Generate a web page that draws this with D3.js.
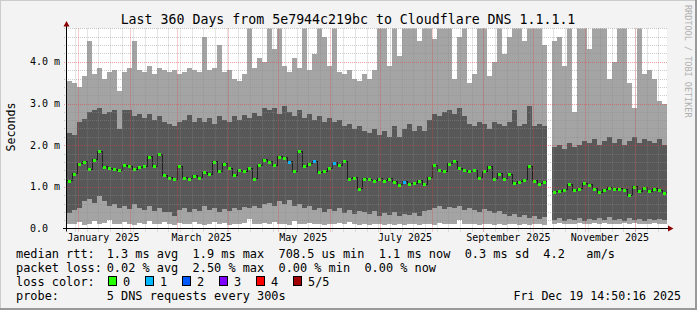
<!DOCTYPE html>
<html>
<head>
<meta charset="utf-8">
<script src="https://cdn.jsdelivr.net/npm/d3@7"></script>
<style>
html, body { margin: 0; padding: 0; background: #f3f3f3; }
svg { display: block; font-family: "DejaVu Sans Mono", monospace; }
text { white-space: pre; }
</style>
</head>
<body>
<svg id="chart" width="697" height="310"></svg>
<script>
// 360 days, one column every 3 days
var startTime = Date.UTC(2024, 11, 25, 5);
var endTime = Date.UTC(2025, 11, 20, 5);
var stepDays = 3;

// median rtt in ms (null = no data)
var medianRtt = [1.15,1.32,1.55,1.6,1.42,1.65,1.85,1.48,1.45,1.42,
  1.4,1.52,1.5,1.42,1.47,1.5,1.72,1.5,1.78,1.28,
  1.22,1.18,1.5,1.22,1.2,1.27,1.22,1.35,1.3,1.6,
  1.38,1.55,1.45,1.28,1.4,1.38,1.45,1.2,1.52,1.65,
  1.6,1.52,1.72,1.7,1.6,1.38,1.85,1.5,1.55,1.62,
  1.35,1.38,1.45,1.58,1.52,1.62,1.2,1.22,0.95,1.2,
  1.18,1.15,1.2,1.15,1.2,1.12,1.05,1.12,1.07,1.08,
  1.15,1.06,1.22,1.52,1.4,1.38,1.55,1.62,1.45,1.4,
  1.37,1.4,1.22,1.37,1.48,1.2,1.32,1.2,1.3,1.08,
  1.12,1.17,1.5,1.15,1.07,1.12,null,0.88,0.9,0.93,
  1.06,0.92,0.95,1.08,1.05,0.95,0.87,0.93,0.98,0.94,
  0.95,0.93,0.8,1.0,0.9,0.98,0.9,0.95,0.92,0.86];

// lost pings per step (out of 5)
var lossCount = [0,0,0,0,0,0,0,0,0,0, 0,0,0,0,0,0,0,0,0,0,
  0,0,0,0,0,0,0,0,0,0, 0,0,0,0,0,0,0,0,0,0,
  0,0,0,0,1,0,0,0,0,1, 0,0,0,1,0,0,0,0,0,0,
  0,0,0,0,0,0,0,1,0,0, 0,0,0,0,0,0,0,0,0,0,
  0,0,0,0,0,0,0,0,0,0, 0,0,0,0,0,0,0,0,0,0,
  0,0,0,0,0,0,0,0,0,0, 0,0,0,0,0,0,0,0,0,0];

// smoke: sorted pings (fastest .. slowest), ms
var pingMin = [0.12,0.1,0.15,0.08,0.12,0.18,0.1,0.14,0.2,0.12,
  0.1,0.16,0.12,0.08,0.14,0.1,0.18,0.12,0.1,0.15,
  0.12,0.08,0.14,0.1,0.12,0.16,0.1,0.08,0.12,0.15,
  0.1,0.13,0.09,0.12,0.1,0.14,0.22,0.12,0.1,0.14,
  0.12,0.16,0.1,0.12,0.09,0.18,0.12,0.1,0.14,0.1,
  0.12,0.08,0.12,0.1,0.13,0.1,0.15,0.12,0.09,0.1,
  0.08,0.1,0.12,0.08,0.1,0.09,0.12,0.08,0.1,0.11,
  0.08,0.1,0.12,0.09,0.14,0.1,0.12,0.1,0.2,0.12,
  0.1,0.12,0.08,0.1,0.12,0.09,0.1,0.08,0.12,0.1,
  0.08,0.1,0.09,0.12,0.1,0.08,null,0.12,0.14,0.1,
  0.12,0.1,0.14,0.12,0.1,0.13,0.11,0.14,0.1,0.12,
  0.1,0.13,0.11,0.14,0.1,0.12,0.1,0.13,0.11,0.12];

var pingLow = [0.37,0.45,0.5,0.65,0.72,0.62,0.78,0.65,0.55,0.6,
  0.5,0.55,0.48,0.6,0.5,0.45,0.55,0.42,0.5,0.4,
  0.4,0.3,0.45,0.5,0.4,0.48,0.42,0.55,0.45,0.5,
  0.4,0.48,0.42,0.5,0.45,0.52,0.5,0.55,0.5,0.58,
  0.62,0.55,0.65,0.6,0.68,0.55,0.6,0.5,0.55,0.45,
  0.5,0.4,0.48,0.42,0.5,0.38,0.45,0.35,0.42,0.4,
  0.35,0.42,0.3,0.38,0.32,0.4,0.3,0.35,0.32,0.38,
  0.3,0.42,0.45,0.5,0.55,0.48,0.52,0.5,0.55,0.45,
  0.5,0.45,0.4,0.48,0.42,0.38,0.42,0.35,0.3,0.35,
  0.28,0.32,0.25,0.3,0.22,0.28,null,0.2,0.25,0.18,
  0.22,0.2,0.25,0.18,0.22,0.2,0.25,0.2,0.28,0.2,
  0.22,0.18,0.25,0.2,0.22,0.18,0.24,0.2,0.22,0.2];

var pingHigh = [2.3,2.25,2.55,2.62,2.8,2.85,2.9,2.75,2.8,2.85,
  2.4,2.85,2.85,2.7,2.75,2.65,2.75,2.6,2.7,2.55,
  2.5,2.45,2.55,2.6,2.72,2.55,2.65,2.55,2.65,2.5,
  2.7,2.6,2.55,2.7,2.6,2.72,2.65,2.78,2.7,2.9,
  2.85,2.9,2.75,2.95,2.8,2.7,2.85,2.65,2.75,2.6,
  2.7,2.55,2.65,2.55,2.6,2.45,2.5,2.4,2.45,2.35,
  2.3,2.4,2.25,2.35,2.2,2.45,2.2,2.4,2.5,2.35,
  2.45,2.35,2.6,2.75,2.7,2.8,2.85,2.75,2.9,2.7,
  2.5,2.45,2.55,2.5,2.4,2.55,2.5,2.45,2.55,2.85,
  2.45,2.5,2.95,2.45,2.5,2.45,null,1.95,2.0,1.9,
  2.05,1.95,2.0,2.1,2.05,2.15,2.0,2.1,2.2,2.05,
  2.15,2.0,2.1,2.2,2.05,2.15,2.1,2.05,2.15,2.0];

var pingMax = [3.55,3.5,3.4,3.65,4.5,3.7,3.85,3.6,3.75,3.8,
  3.3,3.75,3.85,4.5,3.8,3.75,3.9,3.7,3.85,3.8,
  3.75,3.8,3.7,3.75,3.85,3.8,3.75,4.6,3.8,3.85,
  4.4,3.75,3.8,3.6,3.55,3.7,5.0,3.85,4.1,4.0,
  5.0,4.3,5.0,3.9,3.75,4.1,3.85,5.0,3.8,4.2,
  5.0,4.6,3.9,5.0,3.75,3.7,3.8,3.6,3.55,3.7,
  3.6,3.8,5.0,5.0,3.9,5.0,4.15,5.0,5.0,5.0,
  4.5,5.0,5.0,4.55,5.0,5.0,5.0,3.6,4.6,5.0,
  3.5,3.7,5.0,5.0,3.65,4.0,5.0,4.2,4.6,5.0,
  5.0,4.5,5.0,5.0,5.0,4.4,null,4.5,4.6,3.9,
  5.0,2.8,5.0,5.0,4.3,5.0,5.0,5.0,3.6,4.0,
  5.0,5.0,3.5,2.9,5.0,3.7,3.8,3.6,3.05,3.0];

var yTicks = [0, 1, 2, 3, 4];
var yTickLabels = ["0.0", "1.0 m", "2.0 m", "3.0 m", "4.0 m"];

var lossLabels = ["0", "1", "2", "3", "4", "5/5"];
var lossColors = ["#26ff00", "#00b8ff", "#0059ff", "#7e00ff", "#ff0000", "#a10000"];

var titleText = "Last 360 Days from 5e7944c219bc to Cloudflare DNS 1.1.1.1";
var medianStats = ["1.3 ms avg", "1.9 ms max", "708.5 us min", "1.1 ms now", "0.3 ms sd", "4.2", " am/s"];
var lossStats = ["0.02 % avg", "2.50 % max", "0.00 % min", "0.00 % now"];
var probeText = "5 DNS requests every 300s";
var dateText = "Fri Dec 19 14:50:16 2025";

var svg = d3.select("#chart");
var W = 697, H = 310;
var plotL = 67, plotR = 667, plotT = 28.5, plotB = 228.5;

// frame
svg.append("rect").attr("width", W).attr("height", H).attr("fill", "#f3f3f3");
svg.append("rect").attr("x", 0).attr("y", 0).attr("width", W).attr("height", 1).attr("fill", "#cbcbcb");
svg.append("rect").attr("x", 0).attr("y", 0).attr("width", 1).attr("height", H).attr("fill", "#cbcbcb");
svg.append("rect").attr("x", 0).attr("y", H - 2).attr("width", W).attr("height", 2).attr("fill", "#999");
svg.append("rect").attr("x", W - 2).attr("y", 0).attr("width", 2).attr("height", H).attr("fill", "#999");

var x = d3.scaleUtc().domain([startTime, endTime]).range([plotL, plotR]);
var y = d3.scaleLinear().domain([0, 4.8]).range([plotB, plotT]);

svg.append("rect").attr("x", plotL).attr("y", plotT).attr("width", plotR - plotL).attr("height", plotB - plotT).attr("fill", "#fff");

svg.append("clipPath").attr("id", "plotclip").append("rect")
    .attr("x", plotL).attr("y", plotT).attr("width", plotR - plotL).attr("height", plotB - plotT);

var dayMs = 864e5;
var steps = medianRtt.map(function(m, i) {
    var t0 = new Date(startTime + i * stepDays * dayMs);
    return {
        t0: t0, t1: new Date(+t0 + stepDays * dayMs),
        median: m, loss: lossCount[i],
        min: pingMin[i], low: pingLow[i], high: pingHigh[i], max: pingMax[i]
    };
});
var valid = steps.filter(function(d) { return d.median != null; });

var g = svg.append("g").attr("clip-path", "url(#plotclip)").attr("shape-rendering", "crispEdges");

// outer smoke (fastest..slowest ping)
g.selectAll("rect.outer").data(valid).enter().append("rect")
    .attr("class", "outer")
    .attr("x", function(d) { return x(d.t0); })
    .attr("width", function(d) { return x(d.t1) - x(d.t0); })
    .attr("y", function(d) { return y(d.max); })
    .attr("height", function(d) { return y(d.min) - y(d.max); })
    .attr("fill", "#a4a4a4");

// inner smoke
g.selectAll("rect.inner").data(valid).enter().append("rect")
    .attr("class", "inner")
    .attr("x", function(d) { return x(d.t0); })
    .attr("width", function(d) { return x(d.t1) - x(d.t0); })
    .attr("y", function(d) { return y(d.high); })
    .attr("height", function(d) { return y(d.low) - y(d.high); })
    .attr("fill", "#585858");

// median as a step line
var pts = [];
steps.forEach(function(d) {
    pts.push({t: d.t0, v: d.median});
    pts.push({t: d.t1, v: d.median});
});
var line = d3.line()
    .defined(function(d) { return d.v != null; })
    .x(function(d) { return x(d.t); })
    .y(function(d) { return y(d.v); });
g.append("path").datum(pts).attr("d", line)
    .attr("fill", "none").attr("stroke", "#202020").attr("stroke-width", 1);

g.selectAll("rect.med").data(valid).enter().append("rect")
    .attr("class", "med")
    .attr("x", function(d) { return x(d.t0) + 0.5; })
    .attr("width", function(d) { return x(d.t1) - x(d.t0) - 1.5; })
    .attr("y", function(d) { return Math.round(y(d.median)) - 1.5; })
    .attr("height", 3)
    .attr("fill", function(d) { return lossColors[d.loss]; });

// grid on top
var grid = svg.append("g").attr("fill", "none").attr("stroke-dasharray", "1,1");
var minorY = d3.range(0, 4.81, 0.2).filter(function(v) { return Math.abs(v - Math.round(v)) > 0.01; });
grid.selectAll("line.my").data(minorY).enter().append("line")
    .attr("x1", plotL - 3).attr("x2", plotR)
    .attr("y1", function(d) { return Math.round(y(d)) + 0.5; })
    .attr("y2", function(d) { return Math.round(y(d)) + 0.5; })
    .attr("stroke", "rgba(140,140,140,0.45)");
var weeks = d3.utcMonday.range(new Date(startTime), new Date(endTime));
grid.selectAll("line.mx").data(weeks).enter().append("line")
    .attr("x1", function(d) { return Math.round(x(d)) + 0.5; })
    .attr("x2", function(d) { return Math.round(x(d)) + 0.5; })
    .attr("y1", plotT).attr("y2", plotB + 3)
    .attr("stroke", "rgba(140,140,140,0.45)");
grid.selectAll("line.My").data(yTicks.slice(1)).enter().append("line")
    .attr("x1", plotL - 3).attr("x2", plotR)
    .attr("y1", function(d) { return Math.round(y(d)) + 0.5; })
    .attr("y2", function(d) { return Math.round(y(d)) + 0.5; })
    .attr("stroke", "rgba(225,60,60,0.5)");
var months = d3.utcMonth.range(new Date(startTime), new Date(endTime));
grid.selectAll("line.Mx").data(months).enter().append("line")
    .attr("x1", function(d) { return Math.round(x(d)) + 0.5; })
    .attr("x2", function(d) { return Math.round(x(d)) + 0.5; })
    .attr("y1", plotT).attr("y2", plotB + 3)
    .attr("stroke", "rgba(225,60,60,0.5)");

// axes
svg.append("line").attr("x1", plotL - 0.5).attr("x2", plotL - 0.5).attr("y1", plotB + 3).attr("y2", 23)
    .attr("stroke", "#000");
svg.append("line").attr("x1", plotL - 4).attr("x2", plotR + 3).attr("y1", plotB).attr("y2", plotB)
    .attr("stroke", "#000");
svg.append("path").attr("d", "M63.5,26.5L69.5,26.5L66.5,21Z").attr("fill", "#8b0000");
svg.append("path").attr("d", "M668,225.5L668,231.5L673.5,228.5Z").attr("fill", "#8b0000");

// y labels
svg.selectAll("text.yl").data(yTicks).enter().append("text")
    .attr("x", 30).attr("y", function(d) { return y(d) + 3.6; })
    .attr("font-size", "10px").attr("fill", "#000")
    .text(function(d, i) { return yTickLabels[i]; });

// x labels, centred in the middle of the month
var labelMonths = d3.utcMonth.every(2).range(new Date(startTime), new Date(endTime));
var fmt = d3.utcFormat("%B %Y");
svg.selectAll("text.xl").data(labelMonths).enter().append("text")
    .attr("x", function(d) { return x(d3.utcDay.offset(d, 15)); })
    .attr("y", 241)
    .attr("text-anchor", "middle").attr("font-size", "10px").attr("fill", "#000")
    .text(fmt);

svg.append("text").attr("x", 348).attr("y", 24).attr("text-anchor", "middle")
    .attr("font-size", "13.25px").attr("fill", "#000").text(titleText);

svg.append("text").attr("transform", "translate(15,127) rotate(-90)")
    .attr("text-anchor", "middle").attr("font-size", "11.6px").attr("fill", "#000").text("Seconds");

svg.append("text").attr("transform", "translate(684.5,5) rotate(90)")
    .attr("font-size", "8.5px").attr("fill", "#b0b0b0").text("RRDTOOL / TOBI OETIKER");

// legend
var lf = "11.9px";
function legendRow(yy, label, txt) {
    svg.append("text").attr("x", 16).attr("y", yy).attr("font-size", lf).text(label);
    if (txt) svg.append("text").attr("x", 106.7).attr("y", yy).attr("font-size", lf).text(txt);
}
legendRow(258, "median rtt:", medianStats.join("  "));
legendRow(272, "packet loss:", lossStats.join("  "));
legendRow(286, "loss color:", null);
legendRow(300, "probe:", probeText);

var lc = svg.selectAll("g.lc").data(lossLabels).enter().append("g")
    .attr("transform", function(d, i) { return "translate(" + (108.5 + i * 37) + ",0)"; });
lc.append("rect").attr("x", 0).attr("y", 276.5).attr("width", 8).attr("height", 9)
    .attr("fill", function(d, i) { return lossColors[i]; })
    .attr("stroke", "#000").attr("stroke-width", 1);
lc.append("text").attr("x", 14.5).attr("y", 286).attr("font-size", lf).text(function(d) { return d; });

svg.append("text").attr("x", 681).attr("y", 300).attr("text-anchor", "end")
    .attr("font-size", "11.6px").text(dateText);
</script>
</body>
</html>
